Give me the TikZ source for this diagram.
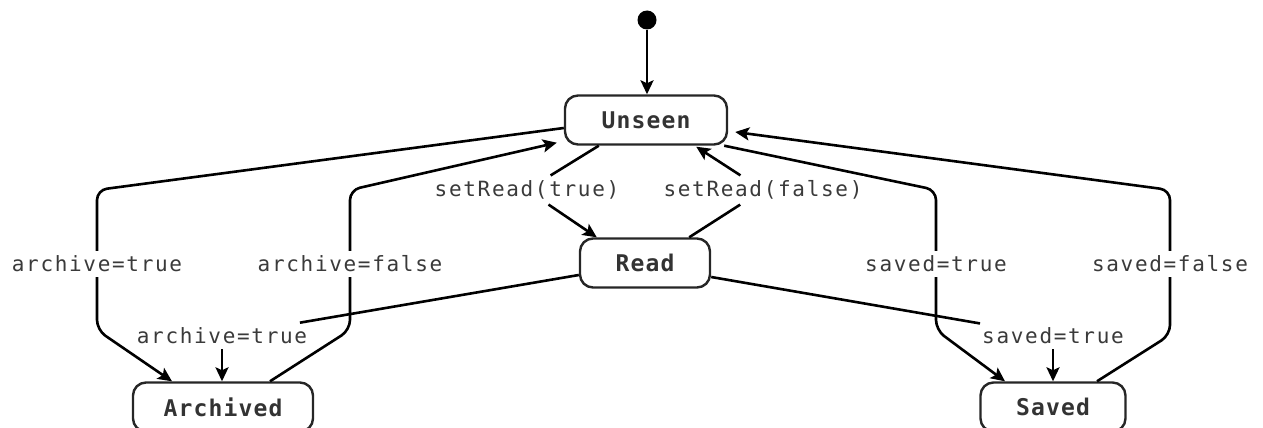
\documentclass[tikz,border=0pt]{standalone}
\usepackage{fontspec}
\newfontfamily\lblfont[LetterSpace=8]{DejaVu Sans Mono}
\newfontfamily\statefont[LetterSpace=5]{DejaVu Sans Mono}
\usetikzlibrary{arrows.meta,calc}
\definecolor{txt}{HTML}{333333}
\definecolor{lbltxt}{HTML}{3A3A3A}
\tikzset{
  state/.style={draw=black!85, line width=2.4pt, rounded corners=13pt, fill=white,
    minimum height=49pt, text=txt, inner sep=0pt,
    font=\statefont\bfseries\fontsize{23}{23}\selectfont},
  lbl/.style={fill=white, text=lbltxt, inner xsep=2pt, inner ysep=5pt,
    font=\lblfont\fontsize{21}{21}\selectfont},
  edge/.style={line width=2.6pt, rounded corners=10pt,
    -{Stealth[length=14pt,width=13pt,inset=3pt]}},
  plain/.style={line width=2.6pt, rounded corners=10pt},
}
\begin{document}
\begin{tikzpicture}[x=1pt,y=-1pt]
\useasboundingbox (0,0) rectangle (1263,428);
% states
\node[circle, fill=black, minimum size=19pt, inner sep=0pt] (start) at (647,20) {};
\node[state, minimum width=162pt] (U) at (646,120) {Unseen};
\node[state, minimum width=130pt] (R) at (645,263) {Read};
\node[state, minimum width=180pt] (A) at (223,407) {Archived};
\node[state, minimum width=145pt] (S) at (1053,407) {Saved};
% bend points
\coordinate (a1) at (97,190);
\coordinate (a2) at (97,330);
\coordinate (b1) at (350,190);
\coordinate (b2) at (350,330);
\coordinate (c1) at (936,190);
\coordinate (c2) at (936,330);
\coordinate (d1) at (1170,190);
\coordinate (d2) at (1170,335);
% initial
\draw[edge] (start) -- (start |- U.north);
% Unseen -> Archived / Archived -> Unseen
\draw[edge] ($(U.west)+(0,8)$) -- (a1) -- (a2) -- ($(A.north)+(-51,0)$);
\draw[edge] ($(A.north)+(47,0)$) -- (b2) -- (b1) -- ($(U.south west)+(-7,-3)$);
% Unseen -> Saved / Saved -> Unseen
\draw[edge] ($(U.south east)+(-4,0)$) -- (c1) -- (c2) -- ($(S.north)+(-48,0)$);
\draw[edge] ($(S.north)+(44,0)$) -- (d2) -- (d1) -- ($(U.east)+(7,12)$);
% labels on vertical edges
\node[lbl] (la1) at (97,264) {archive=true};
\node[lbl] (lb1) at (350,264) {archive=false};
\node[lbl] (lc1) at (936,264) {saved=true};
\node[lbl] (ld1) at (1170,264) {saved=false};
% setRead edges
\node[lbl] (lst) at (527,190) {setRead(true)};
\node[lbl] (lsf) at (763,190) {setRead(false)};
\draw[plain] ($(U.south west)+(35,0)$) -- (lst);
\draw[edge] (lst) -- ($(R.north west)+(18,0)$);
\draw[plain] ($(R.north east)+(-22,0)$) -- (lsf);
\draw[edge] (lsf) -- ($(U.south east)+(-32,1)$);
% Read -> Archived / Read -> Saved
\node[lbl] (lra) at (222,336) {archive=true};
\node[lbl] (lrs) at (1053,336) {saved=true};
\draw[plain] ($(R.west)+(0,12)$) -- (lra);
\draw[edge] (lra.south) -- (lra.south |- A.north);
\draw[plain] ($(R.east)+(0,14)$) -- (lrs);
\draw[edge] (lrs.south) -- (lrs.south |- S.north);
\end{tikzpicture}
\end{document}
